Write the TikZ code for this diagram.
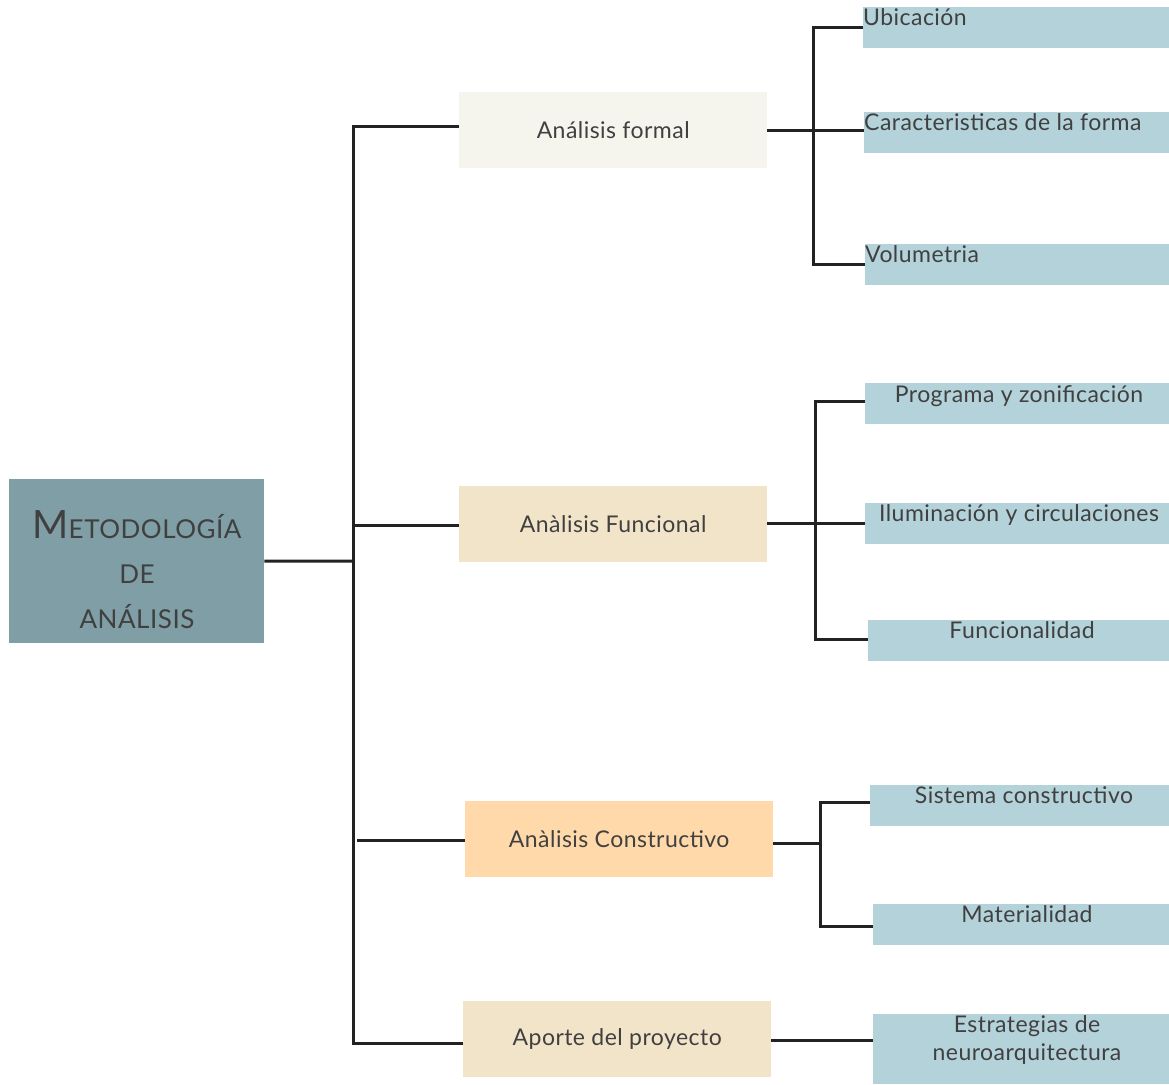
\documentclass[tikz,border=0pt]{standalone}
\usepackage{fontspec}
\setmainfont{Lato}[LetterSpace=2]
\usetikzlibrary{calc}
\definecolor{rootfill}{RGB}{127,158,165}
\definecolor{formalfill}{RGB}{245,245,238}
\definecolor{beigefill}{RGB}{242,228,201}
\definecolor{peachfill}{RGB}{255,217,169}
\definecolor{leaffill}{RGB}{180,210,217}
\definecolor{ink}{RGB}{64,64,64}
\definecolor{wire}{RGB}{34,34,34}
\begin{document}
\begin{tikzpicture}[x=1pt,y=-1pt,
  box/.style={draw=none,rectangle,inner sep=0pt,anchor=north west},
  midbox/.style={box,minimum width=308pt,minimum height=76pt,font=\fontsize{23}{27}\selectfont,text=ink},
  leafbox/.style={box,fill=leaffill,minimum height=41pt},
  leaftext/.style={anchor=base,inner sep=0pt,font=\fontsize{23}{28}\selectfont,text=ink},
  roottext/.style={anchor=base,inner sep=0pt,text=ink,font=\fontsize{26}{30}\selectfont},
  conn/.style={draw=wire,line width=3pt}]
\useasboundingbox (0,0) rectangle (1169,1084);

% root
\node[box,fill=rootfill,minimum width=255pt,minimum height=164pt] (root) at (9,479) {};
\node[roottext] (rt1) at (137,538) {\fontsize{39}{40}\selectfont M\fontsize{26}{30}\selectfont ETODOLOGÍA};
\node[roottext] (rt2) at (137,583) {DE};
\node[roottext] (rt3) at (137,628) {ANÁLISIS};

% second level
\node[midbox,fill=formalfill] (m1) at (459,92) {Análisis formal};
\node[midbox,fill=beigefill] (m2) at (459,486) {Anàlisis Funcional};
\node[midbox,fill=peachfill] (m3) at (465,801) {Anàlisis Constructivo};
\node[midbox,fill=beigefill] (m4) at (463,1001) {Aporte del proyecto};

% third level
\node[leafbox,minimum width=306pt] (l1) at (863,7) {};
\node[leafbox,minimum width=305pt] (l2) at (864,112) {};
\node[leafbox,minimum width=304pt] (l3) at (865,244) {};
\node[leafbox,minimum width=304pt] (l4) at (865,383) {};
\node[leafbox,minimum width=304pt] (l5) at (865,503) {};
\node[leafbox,minimum width=301pt] (l6) at (868,620) {};
\node[leafbox,minimum width=299pt] (l7) at (870,785) {};
\node[leafbox,minimum width=296pt] (l8) at (873,904) {};
\node[leafbox,minimum width=296pt,minimum height=70pt] (l9) at (873,1014) {};

\node[leaftext,anchor=base west] (t1) at (863,25) {Ubicación};
\node[leaftext,anchor=base west] (t2) at (864,130) {Caracteristicas de la forma};
\node[leaftext,anchor=base west] (t3) at (865,262) {Volumetria};
\node[leaftext] (t4) at (1019,402) {Programa y zonificación};
\node[leaftext] (t5) at (1019,521) {Iluminación y circulaciones};
\node[leaftext] (t6) at (1022,638) {Funcionalidad};
\node[leaftext] (t7) at (1024,803) {Sistema constructivo};
\node[leaftext] (t8) at (1027,922) {Materialidad};
\node[leaftext,align=center] (t9) at (1027,1060) {Estrategias de\\neuroarquitectura};

% main trunk
\coordinate (tr) at (353,561);
\draw[conn] (root.east) -- (tr);
\draw[conn] (m1.west |- 0,126) -| (tr) |- (m4.west |- 0,1043);
\draw[conn] (tr |- 0,525) -- (m2.west |- 0,525);
\draw[conn] (357,840) -- (m3.west |- 0,840);

% branch of the formal analysis
\coordinate (j1) at (813,130);
\draw[conn] (m1.east |- j1) -- (j1);
\draw[conn] (l1.west) -| (j1) |- (l3.west);
\draw[conn] (j1) -- (j1 -| l2.west);

% branch of the functional analysis
\coordinate (j2) at (815,523);
\draw[conn] (m2.east |- j2) -- (j2);
\draw[conn] (l4.west |- 0,401) -| (j2) |- (l6.west |- 0,639);
\draw[conn] (j2) -- (j2 -| l5.west);

% branch of the constructive analysis
\coordinate (j3) at (820,843);
\draw[conn] (m3.east |- j3) -- (j3);
\draw[conn] (l7.west |- 0,802) -| (j3) |- (l8.west |- 0,926);

% contribution
\draw[conn] (m4.east |- 0,1040) -- (l9.west |- 0,1040);
\end{tikzpicture}
\end{document}
